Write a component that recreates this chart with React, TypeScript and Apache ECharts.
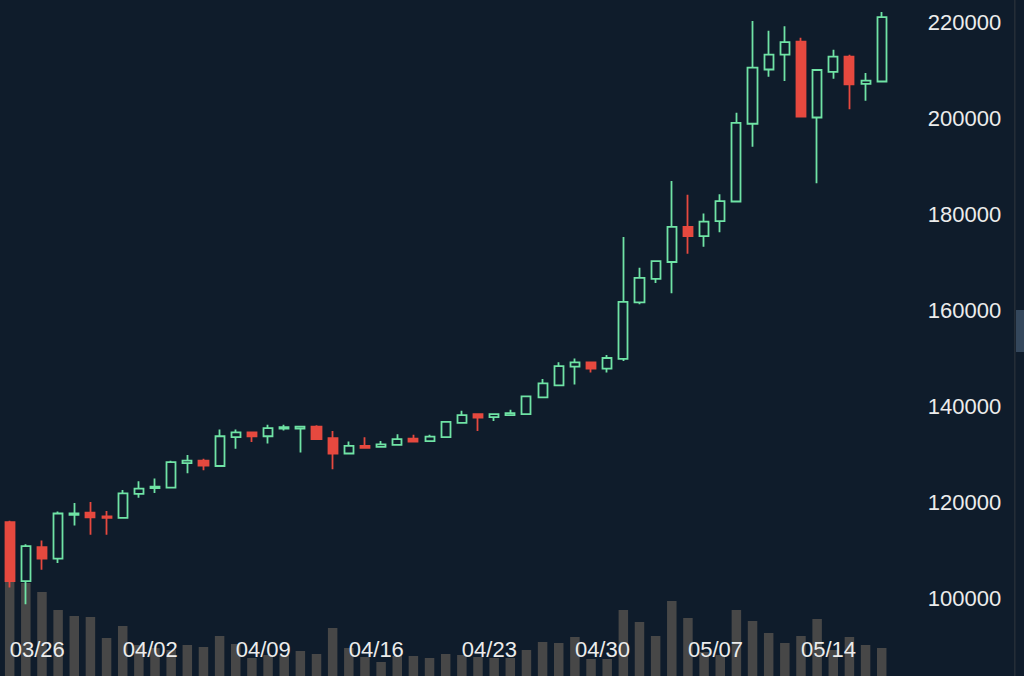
import React, { useEffect, useRef } from "react";
import * as echarts from "echarts";

const dates = [
  "03/26", "03/27", "03/28", "03/29", "03/30", "03/31",
  "04/01", "04/02", "04/03", "04/04", "04/05", "04/06", "04/07", "04/08", "04/09", "04/10",
  "04/11", "04/12", "04/13", "04/14", "04/15", "04/16", "04/17", "04/18", "04/19", "04/20",
  "04/21", "04/22", "04/23", "04/24", "04/25", "04/26", "04/27", "04/28", "04/29", "04/30",
  "05/01", "05/02", "05/03", "05/04", "05/05", "05/06", "05/07", "05/08", "05/09", "05/10",
  "05/11", "05/12", "05/13", "05/14", "05/15", "05/16", "05/17", "05/18", "05/19",
];

const opens = [
  115800, 103500, 110600, 108200, 117300, 117800, 117000, 116700, 121700, 122900,
  123000, 128100, 128600, 127500, 133500, 134500, 133700, 135300, 135300, 135700,
  133300, 130100, 131700, 131500, 131900, 133200, 132700, 133500, 136500, 138300,
  137700, 138100, 138300, 141800, 144300, 148200, 149100, 147800, 149800, 161600,
  166500, 170000, 177300, 175400, 178500, 182600, 198800, 210100, 213200, 215900,
  200100, 209600, 212800, 207100, 207600,
];
const closes = [
  103500, 110800, 108200, 117600, 117600, 116800, 116700, 121800, 122800, 123200,
  128300, 128600, 127600, 133700, 134500, 133700, 135400, 135600, 135700, 133100,
  130100, 131700, 131300, 132000, 133100, 132600, 133600, 136700, 138100, 137600,
  138300, 138500, 142000, 144700, 148300, 149100, 147800, 150000, 161700, 166700,
  170200, 177300, 175400, 178400, 182700, 199000, 210500, 213200, 215800, 200300,
  210000, 212800, 207000, 207800, 221000,
];
const lows = [
  102200, 98700, 105900, 107300, 115100, 113200, 113200, 116600, 120900, 121900,
  122900, 126000, 126600, 127400, 131100, 132500, 132200, 134900, 130300, 133000,
  126800, 130000, 131300, 131400, 131700, 132600, 132700, 133400, 136400, 134800,
  136900, 138000, 138200, 141700, 144300, 144500, 147000, 147000, 149400, 161200,
  165600, 163500, 171700, 173200, 176200, 182500, 194000, 208600, 207700, 200200,
  186400, 208200, 201800, 203600, 207500,
];
const highs = [
  116100, 111200, 112000, 118000, 119800, 120000, 118100, 122500, 124300, 124900,
  128600, 129800, 129000, 135100, 135100, 134700, 136100, 136100, 135900, 136000,
  134800, 132600, 133500, 132700, 134100, 134000, 134000, 136800, 139000, 138300,
  138400, 139200, 142200, 145600, 149100, 149900, 149100, 150600, 175200, 168800,
  170300, 186900, 184000, 180100, 184100, 201100, 220200, 218200, 219100, 216700,
  210100, 214200, 213200, 209400, 222100,
];
const volumes = [
  98, 93, 84, 66, 60, 59, 38, 50, 31, 28,
  26, 31, 29, 40, 32, 18, 21, 21, 25, 22,
  48, 28, 19, 14, 20, 20, 18, 22, 21, 19,
  18, 18, 26, 34, 33, 39, 17, 17, 66, 54,
  40, 75, 58, 24, 21, 66, 55, 43, 33, 40,
  57, 26, 39, 31, 28,
];
const shownPriceTicks = [100000, 120000, 140000, 160000, 180000, 200000, 220000];

const BG = "#0f1c2b";
const UP = "#6fe3a5";
const DOWN = "#e6493f";
const FONT = "'Liberation Sans', Arial, Helvetica, sans-serif";

export default function App() {
  const ref = useRef<HTMLDivElement>(null);
  useEffect(() => {
    if (!ref.current) return;
    const chart = echarts.init(ref.current, null, { renderer: "svg" });
    const ohlc = dates.map((_, i) => [opens[i], closes[i], lows[i], highs[i]]);
    chart.setOption({
      animation: false,
      backgroundColor: BG,
      grid: [
        { left: 1.6, right: 134.2, top: -74, height: 768, outerBoundsMode: "none", containLabel: false },
        { left: 1.6, right: 134.2, top: 556, height: 120, outerBoundsMode: "none", containLabel: false },
      ],
      xAxis: [
        {
          type: "category",
          gridIndex: 0,
          data: dates,
          boundaryGap: true,
          axisLine: { show: false },
          axisTick: { show: false },
          axisLabel: { show: false },
          splitLine: { show: false },
        },
        {
          type: "category",
          gridIndex: 1,
          data: dates,
          boundaryGap: true,
          z: 10,
          axisLine: { show: false },
          axisTick: { show: false },
          splitLine: { show: false },
          axisLabel: {
            show: true,
            inside: true,
            interval: 6,
            align: "left",
            margin: 16,
            color: "#ececec",
            fontSize: 22,
            fontFamily: FONT,
          },
        },
      ],
      yAxis: [
        {
          type: "value",
          gridIndex: 0,
          position: "right",
          min: 80000,
          max: 240000,
          interval: 20000,
          axisLine: { show: false },
          axisTick: { show: false },
          splitLine: { show: false },
          axisLabel: {
            margin: 38,
            color: "#ececec",
            fontSize: 22,
            fontFamily: FONT,
            showMinLabel: false,
            showMaxLabel: false,
            formatter: (v: number) => (shownPriceTicks.indexOf(v) >= 0 ? String(v) : ""),
          },
        },
        {
          type: "value",
          gridIndex: 1,
          min: 0,
          max: 120,
          show: false,
          splitLine: { show: false },
        },
      ],
      series: [
        {
          type: "bar",
          xAxisIndex: 1,
          yAxisIndex: 1,
          data: volumes,
          barWidth: 9.5,
          itemStyle: { color: "#474747" },
          z: 1,
        },
        {
          type: "candlestick",
          xAxisIndex: 0,
          yAxisIndex: 0,
          data: ohlc,
          barWidth: 9.6,
          z: 5,
          itemStyle: {
            color: BG,
            color0: DOWN,
            borderColor: UP,
            borderColor0: DOWN,
            borderWidth: 1.8,
          },
        },
      ],
      graphic: [
        {
          type: "rect",
          shape: { x: 1014, y: 0, width: 1.6, height: 676 },
          style: { fill: "#242d37" },
          z: 20,
        },
        {
          type: "rect",
          shape: { x: 1016, y: 310, width: 8, height: 42 },
          style: { fill: "#34475c" },
          z: 20,
        },
      ],
    });
    return () => chart.dispose();
  }, []);
  return (
    <div
      ref={ref}
      style={{ position: "fixed", left: 0, top: 0, width: 1024, height: 676, background: BG }}
    />
  );
}
